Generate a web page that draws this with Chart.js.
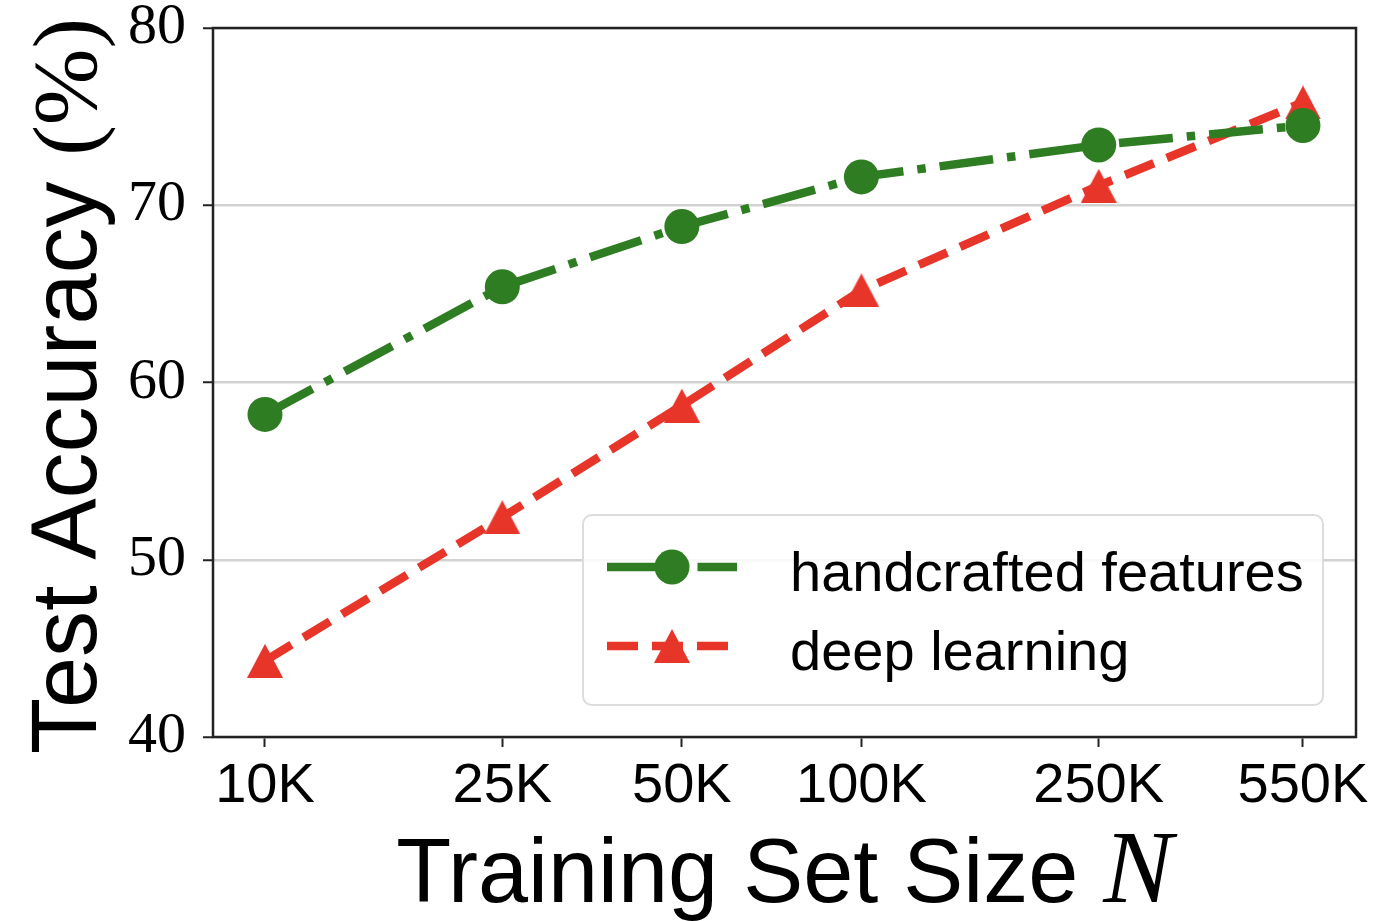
<!DOCTYPE html>
<html>
<head>
<meta charset="utf-8">
<script src="https://cdn.jsdelivr.net/npm/chart.js@4.4.1/dist/chart.umd.min.js"></script>
<style>
  html, body { margin: 0; padding: 0; background: #fff; }
  #wrap { width: 1375px; height: 921px; }
</style>
</head>
<body>
<div id="wrap"><canvas id="myChart" width="1375" height="921"></canvas></div>
<script>
// data
const trainSizes = [10000, 25000, 50000, 100000, 250000, 550000];
const sizeLabels = ['10K', '25K', '50K', '100K', '250K', '550K'];
const handcrafted = [58.2, 65.4, 68.8, 71.6, 73.4, 74.5];
const deepLearning = [44.3, 52.4, 58.7, 65.2, 71.1, 75.8];
const yTicks = [40, 50, 60, 70, 80];
const seriesNames = ['handcrafted features', 'deep learning'];

const GREEN = '#2f7d22';
const RED = '#e8352a';
const GREEN_DASH = [54, 14, 8.5, 14];
const RED_DASH = [31, 14];

// triangle marker centred on its bounding box (like matplotlib '^')
function makeTriangle(color, w, h) {
    const c = document.createElement('canvas');
    c.width = w;
    c.height = h;
    const g = c.getContext('2d');
    g.fillStyle = color;
    g.beginPath();
    g.moveTo(w / 2, 0);
    g.lineTo(w, h);
    g.lineTo(0, h);
    g.closePath();
    g.fill();
    return c;
}
const triImg = makeTriangle(RED, 36, 34);

// no extra room for overflowing tick labels, layout padding decides
function noScalePadding(scale) {
    scale.paddingTop = 0;
    scale.paddingBottom = 0;
    scale.paddingLeft = 0;
    scale.paddingRight = 0;
}

// frame, axis titles and legend drawn on top
const decorPlugin = {
    id: 'decor',
    afterDatasetsDraw(chart) {
        const ctx = chart.ctx;
        const a = chart.chartArea;
        ctx.save();

        // legend box
        const lx = 583, ly = 515, lw = 740, lh = 190, r = 9;
        ctx.beginPath();
        ctx.moveTo(lx + r, ly);
        ctx.arcTo(lx + lw, ly, lx + lw, ly + lh, r);
        ctx.arcTo(lx + lw, ly + lh, lx, ly + lh, r);
        ctx.arcTo(lx, ly + lh, lx, ly, r);
        ctx.arcTo(lx, ly, lx + lw, ly, r);
        ctx.closePath();
        ctx.fillStyle = 'rgba(255,255,255,0.85)';
        ctx.fill();
        ctx.strokeStyle = '#dcdcdc';
        ctx.lineWidth = 2;
        ctx.stroke();

        const rows = [
            { color: GREEN, dash: GREEN_DASH, y: 567, marker: 'circle' },
            { color: RED, dash: RED_DASH, y: 646, marker: 'tri' }
        ];
        rows.forEach((row, i) => {
            ctx.strokeStyle = row.color;
            ctx.lineWidth = 8.5;
            ctx.setLineDash(row.dash);
            ctx.beginPath();
            ctx.moveTo(607, row.y);
            ctx.lineTo(737, row.y);
            ctx.stroke();
            ctx.setLineDash([]);
            if (row.marker === 'circle') {
                ctx.fillStyle = row.color;
                ctx.beginPath();
                ctx.arc(672, row.y, 17.5, 0, Math.PI * 2);
                ctx.fill();
            } else {
                ctx.drawImage(triImg, 672 - 18, row.y - 17);
            }
            ctx.fillStyle = '#000';
            ctx.font = '56px "Liberation Sans"';
            ctx.textAlign = 'left';
            ctx.textBaseline = 'alphabetic';
            ctx.fillText(seriesNames[i], 790, row.y + 24);
        });

        // frame
        ctx.strokeStyle = '#222';
        ctx.lineWidth = 2.5;
        ctx.strokeRect(a.left, a.top, a.right - a.left, a.bottom - a.top);

        // x title: sans text + italic serif N
        ctx.fillStyle = '#000';
        ctx.textBaseline = 'alphabetic';
        ctx.textAlign = 'left';
        const t1 = 'Training Set Size ';
        ctx.font = '90px "Liberation Sans"';
        const w1 = ctx.measureText(t1).width;
        ctx.font = 'italic 104px "Liberation Serif"';
        const w2 = ctx.measureText('N').width;
        const cx = (a.left + a.right) / 2;
        let sx = cx - (w1 + w2) / 2;
        ctx.font = '90px "Liberation Sans"';
        ctx.fillText(t1, sx, 902);
        ctx.font = 'italic 104px "Liberation Serif"';
        ctx.fillText('N', sx + w1, 902);

        // y title, rotated
        const y1 = 'Test Accuracy ';
        const y2 = '(%)';
        ctx.font = '92px "Liberation Sans"';
        const v1 = ctx.measureText(y1).width;
        ctx.font = '92px "Liberation Serif"';
        const v2 = ctx.measureText(y2).width;
        ctx.translate(96, 386);
        ctx.rotate(-Math.PI / 2);
        const st = -(v1 + v2) / 2;
        ctx.font = '92px "Liberation Sans"';
        ctx.fillText(y1, st, 0);
        ctx.font = '92px "Liberation Serif"';
        ctx.fillText(y2, st + v1, 0);

        ctx.restore();
    }
};

const ctx = document.getElementById('myChart').getContext('2d');
const myChart = new Chart(ctx, {
    type: 'line',
    data: {
        datasets: [
            {
                label: seriesNames[0],
                data: trainSizes.map((x, i) => ({ x: x, y: handcrafted[i] })),
                borderColor: GREEN,
                borderWidth: 8.5,
                borderDash: GREEN_DASH,
                pointStyle: 'circle',
                pointRadius: 17.5,
                pointBackgroundColor: GREEN,
                pointBorderWidth: 0,
                tension: 0
            },
            {
                label: seriesNames[1],
                data: trainSizes.map((x, i) => ({ x: x, y: deepLearning[i] })),
                borderColor: RED,
                borderWidth: 8.5,
                borderDash: RED_DASH,
                pointStyle: triImg,
                pointRadius: 18,
                pointBackgroundColor: RED,
                pointBorderWidth: 0,
                tension: 0
            }
        ]
    },
    options: {
        responsive: false,
        animation: false,
        events: [],
        layout: { padding: { left: 0, top: 28, right: 19, bottom: 0 } },
        plugins: {
            legend: { display: false },
            tooltip: { enabled: false }
        },
        scales: {
            x: {
                type: 'logarithmic',
                min: 8182,
                max: 675000,
                afterBuildTicks: (scale) => {
                    scale.ticks = trainSizes.map(v => ({ value: v }));
                },
                afterFit: (scale) => {
                    scale.height = 184;
                    noScalePadding(scale);
                },
                border: { display: false },
                grid: {
                    drawOnChartArea: false,
                    drawTicks: true,
                    tickLength: 10,
                    tickColor: '#222',
                    tickWidth: 2
                },
                ticks: {
                    autoSkip: false,
                    maxRotation: 0,
                    padding: 12,
                    color: '#000',
                    font: { family: 'Liberation Sans', size: 56, lineHeight: 1 },
                    callback: (value, index) => sizeLabels[index]
                }
            },
            y: {
                min: 40,
                max: 80,
                afterBuildTicks: (scale) => {
                    scale.ticks = yTicks.map(v => ({ value: v }));
                },
                afterFit: (scale) => {
                    scale.width = 213;
                    noScalePadding(scale);
                },
                border: { display: false },
                grid: {
                    color: '#d2d2d2',
                    lineWidth: 2.5,
                    tickLength: 10,
                    tickColor: '#222',
                    tickWidth: 2
                },
                ticks: {
                    padding: 17,
                    color: '#000',
                    font: { family: 'Liberation Serif', size: 58, lineHeight: 1 },
                    callback: (value) => String(value)
                }
            }
        }
    },
    plugins: [decorPlugin]
});
</script>
</body>
</html>
